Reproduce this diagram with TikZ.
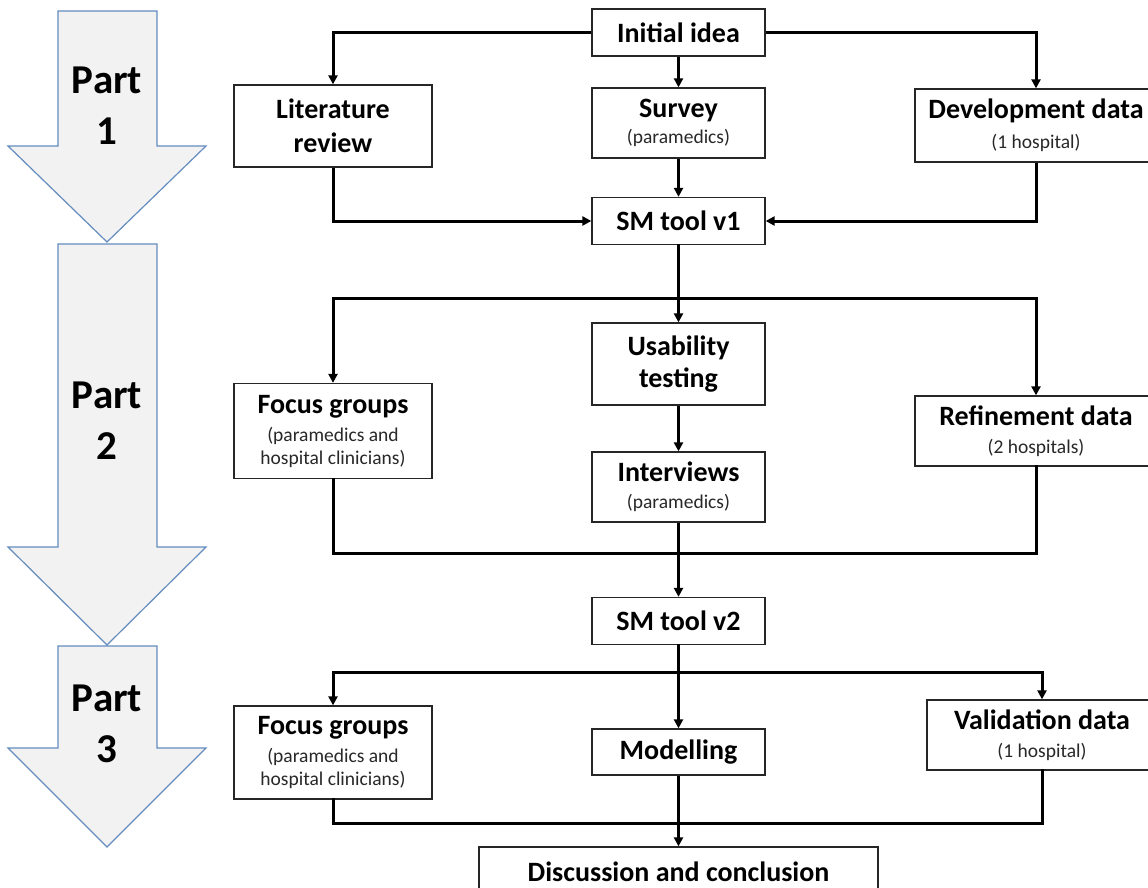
\documentclass[tikz,border=0pt]{standalone}
\usepackage{fontspec}
\setmainfont{Carlito}
\usetikzlibrary{arrows.meta}
\definecolor{partfill}{RGB}{242,242,242}
\definecolor{partline}{RGB}{100,140,190}
\definecolor{subtext}{RGB}{40,40,40}
\newcommand{\mainsize}{\fontsize{28}{34}\selectfont\bfseries}
\newcommand{\subsize}{\fontsize{19.5}{23}\selectfont\mdseries\color{subtext}}
\begin{document}
\begin{tikzpicture}[x=1pt,y=-1pt,
  box/.style={draw=black!85,line width=1.3pt,fill=white,align=center,inner sep=0pt,font=\mainsize},
  midbox/.style={box,minimum width=173pt},
  sidebox/.style={box,minimum width=198pt},
  conn/.style={line width=3pt,line cap=rect},
  flow/.style={conn,-{Triangle[length=9pt,width=9pt]},line cap=butt},
  partarrow/.style={draw=partline,fill=partfill,line width=1.2pt,line join=miter},
  partlabel/.style={align=center,font=\fontsize{41}{51}\selectfont\bfseries}]
\useasboundingbox (0,0) rectangle (1148,888);

% stage arrows on the left
\path[partarrow] (58,11) -- (157,11) -- (157,146) -- (206,146) -- (107,242) -- (8,146) -- (58,146) -- cycle;
\path[partarrow] (58,244) -- (157,244) -- (157,547) -- (206,547) -- (107,645) -- (8,547) -- (58,547) -- cycle;
\path[partarrow] (58,646) -- (157,646) -- (157,748) -- (206,748) -- (107,847) -- (8,748) -- (58,748) -- cycle;
\node[partlabel] (p1) at (107,106) {Part\\1};
\node[partlabel] (p2) at (107,421) {Part\\2};
\node[partlabel] (p3) at (107,724) {Part\\3};

% part 1
\node[midbox,minimum height=47pt] (init) at (678.5,32.5) {Initial idea};
\node[sidebox,minimum height=82pt] (lit) at (333,126) {Literature\\review};
\node[midbox,minimum height=70pt] (survey) at (678.5,123) {Survey\\[-8pt]{\subsize(paramedics)}};
\node[box,minimum width=242pt,minimum height=73pt] (dev) at (1036,125.5) {Development data\\[-4pt]{\subsize(1 hospital)}};
\node[midbox,minimum height=47pt] (sm1) at (678.5,221) {SM tool v1};

% part 2
\node[midbox,minimum height=82pt] (usab) at (678.5,364) {Usability\\[-2pt]testing};
\node[sidebox,minimum height=95pt] (focusA) at (333,431) {Focus groups\\[-6pt]{\subsize(paramedics and}\\[-11pt]{\subsize hospital clinicians)}};
\node[box,minimum width=242pt,minimum height=70pt] (refine) at (1036,431) {Refinement data\\[-6pt]{\subsize(2 hospitals)}};
\node[midbox,minimum height=70pt] (interv) at (678.5,487) {Interviews\\[-7pt]{\subsize(paramedics)}};
\node[midbox,minimum height=47pt] (sm2) at (678.5,621) {SM tool v2};

% part 3
\node[sidebox,minimum height=93pt] (focusB) at (333,752.5) {Focus groups\\[-6pt]{\subsize(paramedics and}\\[-11pt]{\subsize hospital clinicians)}};
\node[midbox,minimum height=46pt] (model) at (678.5,752) {Modelling};
\node[box,minimum width=230pt,minimum height=70pt] (valid) at (1042,735) {Validation data\\[-6pt]{\subsize(1 hospital)}};
\node[box,minimum width=399pt,minimum height=50pt] (disc) at (678.5,872) {Discussion and conclusion};

% junction points
\coordinate (s1) at (678.5,298);
\coordinate (j2) at (678.5,553);
\coordinate (s3) at (678.5,672);
\coordinate (j3) at (678.5,823);

% part 1 connectors
\draw[flow] (init.west) -| (lit.north);
\draw[flow] (init.south) -- (survey.north);
\draw[flow] (init.east) -| (dev.north);
\draw[flow] (lit.south) |- (sm1.west);
\draw[flow] (survey.south) -- (sm1.north);
\draw[flow] (dev.south) |- (sm1.east);

% part 2 connectors
\draw[conn] (sm1.south) -- (s1);
\draw[flow] (s1) -| (focusA.north);
\draw[flow] (s1) -| (refine.north);
\draw[flow] (s1) -- (usab.north);
\draw[flow] (usab.south) -- (interv.north);
\draw[conn] (focusA.south) |- (j2);
\draw[conn] (refine.south) |- (j2);
\draw[flow] (interv.south) -- (sm2.north);

% part 3 connectors
\draw[conn] (sm2.south) -- (s3);
\draw[flow] (s3) -| (focusB.north);
\draw[flow] (s3) -| (valid.north);
\draw[flow] (s3) -- (model.north);
\draw[conn] (focusB.south) |- (j3);
\draw[conn] (valid.south) |- (j3);
\draw[flow] (model.south) -- (disc.north);
\end{tikzpicture}
\end{document}
